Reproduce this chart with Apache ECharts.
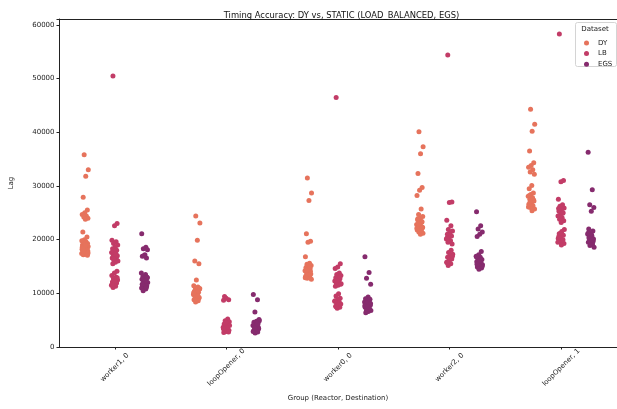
<!DOCTYPE html>
<html>
<head>
<meta charset="utf-8">
<script src="https://cdn.jsdelivr.net/npm/echarts@6/dist/echarts.min.js"></script>
<style>
html,body{margin:0;padding:0;background:#fff;}
#chart{width:617px;height:409px;}
</style>
</head>
<body>
<div id="chart"></div>
<script>
// ---- data ----
const categories = ['worker1, 0', 'loopOpener, 0', 'worker0, 0', 'worker2, 0', 'loopOpener, 1'];
const datasetNames = ['DY', 'LB', 'EGS'];
const yTicks = [0, 10000, 20000, 30000, 40000, 50000, 60000];

const dyValues = [
  [35800, 33000, 31800, 27900, 25500, 25000, 24700, 24400, 24200, 24000, 23800, 21400,
   20500, 20000, 19800, 19600, 19500, 19300, 19200, 19000, 18900, 18800, 18700, 18600, 18500,
   18400, 18300, 18200, 18100, 18000, 17900, 17800, 17700, 17600, 17500, 17400, 17300, 17200,
   17100, 19100, 18600, 18200, 17800, 17500, 18900, 18300],
  [24400, 23100, 19900, 16000, 15500, 12500,
   11400, 11200, 11000, 10800, 10600, 10400, 10200, 10000, 9800, 9600, 9400, 9200, 9000, 8800,
   8600, 8400, 10900, 10300, 9700, 9100, 8700, 10100, 9500],
  [31500, 28700, 27300, 21100, 19700, 19500, 16800,
   15600, 15400, 15200, 15000, 14800, 14600, 14400, 14200, 14000, 13800, 13600, 13400, 13200,
   13000, 12800, 12600, 15300, 14700, 14100, 13500, 12900, 14900, 14300],
  [40100, 37300, 36000, 32300, 29700, 29200, 28200, 25700,
   24700, 24300, 24000, 23700, 23400, 23100, 22800, 22600, 22400, 22200, 22000, 21800, 21600,
   21400, 21200, 21000, 23900, 23300, 22700, 22100, 21500, 22900, 22300, 21700],
  [44300, 41500, 40200, 36500, 34300, 33800, 33500, 33000, 32600, 32200, 30100, 29500,
   28700, 28400, 28100, 27800, 27500, 27200, 26900, 26600, 26300, 26000, 25700, 25400,
   28200, 27400, 26700, 26100, 27700, 27000]
];

const lbValues = [
  [50500, 23000, 22600, 19900, 19600, 19300, 19000, 18600, 18300, 18000, 17800, 17600, 17400,
   17200, 17000, 16800, 16600, 16400, 16200, 16000, 15800, 15500, 14100, 13800, 13300, 13000,
   12700, 12500, 12300, 12100, 11900, 11700, 11500, 11300, 11100, 12900, 12200, 11600, 17100, 16500],
  [9400, 8800, 9100, 8700,
   5200, 4900, 4700, 4500, 4300, 4100, 3900, 3700, 3500, 3300, 3100, 2900, 2700, 4800, 4400,
   4000, 3600, 3200, 2800, 4600, 3400],
  [46500, 15500, 14900, 14600,
   13800, 13500, 13300, 13100, 12900, 12700, 12500, 12300, 12100, 11900, 11700, 11500, 11300,
   13000, 12400, 11800,
   9900, 9500, 9100, 8800, 8600, 8400, 8200, 8000, 7800, 7600, 7400, 7200, 8500, 7900, 7500],
  [54400, 27000, 26900, 23600, 22600,
   21900, 21600, 21300, 21000, 20700, 20400, 20100, 19800, 19500, 19200, 20900, 20300,
   18000, 17600, 17300, 17000, 16700, 16400, 16100, 15800, 15500, 15200, 16900, 16300, 15700],
  [58300, 31000, 30800, 27500,
   26500, 26200, 25900, 25600, 25300, 25000, 24700, 24400, 24100, 23800, 23500, 23200,
   25800, 24900, 24200,
   21900, 21500, 21100, 20800, 20500, 20200, 19900, 19600, 19300, 19000, 20600, 20000, 21200, 19500]
];

const egsValues = [
  [21100, 18600, 18300, 18100, 17200, 16900, 16600, 17000,
   13800, 13500, 13200, 13000, 12800, 12600, 12400, 12200, 12000, 11800, 11600, 11400, 11200,
   11000, 10800, 10500, 12900, 12300, 11700, 11100],
  [9800, 8800, 6500,
   5100, 4800, 4600, 4400, 4200, 4000, 3800, 3600, 3400, 3200, 3000, 2800, 2600, 4900, 4500,
   4100, 3700, 3300, 2900, 4300, 3500],
  [16800, 13900, 12800, 11700,
   9300, 9000, 8800, 8600, 8400, 8200, 8000, 7800, 7600, 7400, 7200, 7000, 6800, 6600, 6400,
   8900, 8300, 7700, 7100, 6700, 8100, 7500],
  [25200, 22600, 22000, 21400, 21000, 20600, 17800,
   17200, 16900, 16700, 16500, 16300, 16100, 15900, 15700, 15500, 15300, 15100, 14900, 14700,
   14500, 16800, 16200, 15600, 15000, 16000, 15400],
  [36300, 29300, 26500, 26000, 25300,
   22000, 21600, 21300, 21000, 20700, 20400, 20100, 19800, 19500, 19200, 18900, 18600,
   20900, 20300, 19700, 19100, 21200, 20000]
];

// ---- styling / layout ----
const colors = ['#e6735c', '#c23c67', '#862b6e'];
const FONT = 'DejaVu Sans';
const dodge = [-0.2667, 0, 0.2667];
const JW = 0.06; // total jitter width in category units
function jitter(i) { return (((i * 0.6180339887) + 0.37) % 1 - 0.5) * JW; }

function buildSeries(values, k) {
  const pts = [];
  values.forEach((arr, ci) => {
    arr.forEach((v, i) => pts.push([ci + dodge[k] + jitter(i + k * 3), v]));
  });
  return {
    name: datasetNames[k],
    type: 'scatter',
    xAxisIndex: 1,
    yAxisIndex: 0,
    symbol: 'circle',
    symbolSize: 5,
    itemStyle: { color: colors[k], opacity: 1 },
    emphasis: { disabled: true },
    data: pts
  };
}

const chart = echarts.init(document.getElementById('chart'), null, { renderer: 'canvas' });
const option = {
  animation: false,
  color: colors,
  title: {
    text: 'Timing Accuracy: DY vs, STATIC (LOAD_BALANCED, EGS)',
    left: 336.5,
    top: 7,
    textAlign: 'center',
    textStyle: { fontFamily: FONT, fontSize: 8.4, fontWeight: 'normal', color: '#111' }
  },
  grid: { left: 55, right: -1, top: 19, bottom: 62, containLabel: false },
  legend: {
    orient: 'vertical',
    left: 579,
    top: 34,
    itemWidth: 5,
    itemHeight: 5,
    itemGap: 2.6,
    icon: 'circle',
    data: datasetNames,
    textStyle: { fontFamily: FONT, fontSize: 7, color: '#222', lineHeight: 8, padding: [0, 0, 0, 4] },
    selectedMode: false
  },
  graphic: [
    {
      type: 'rect', z: 3, silent: true,
      shape: { x: 575.5, y: 22.5, width: 41, height: 44, r: 2 },
      style: { fill: 'rgba(255,255,255,0.8)', stroke: '#d4d4d4', lineWidth: 1 }
    },
    {
      type: 'text', z: 4, silent: true,
      x: 595, y: 29.5,
      style: { text: 'Dataset', fontFamily: FONT, fontSize: 7, fill: '#222', align: 'center', verticalAlign: 'middle' }
    }
  ],
  xAxis: [
    {
      type: 'category',
      data: categories,
      boundaryGap: true,
      position: 'bottom',
      name: 'Group (Reactor, Destination)',
      nameLocation: 'middle',
      nameGap: 46,
      nameTextStyle: { fontFamily: FONT, fontSize: 7, color: '#222' },
      axisLine: { show: true, onZero: false, lineStyle: { color: '#222', width: 1 } },
      axisTick: { show: true, alignWithLabel: true, length: 2.5, lineStyle: { color: '#222' } },
      axisLabel: {
        interval: 0, rotate: 45, margin: 20.5,
        align: 'center', verticalAlign: 'middle',
        fontFamily: FONT, fontSize: 7, color: '#222'
      },
      splitLine: { show: false }
    },
    {
      type: 'value',
      min: -0.5, max: 4.5,
      position: 'top',
      axisLine: { show: true, onZero: false, lineStyle: { color: '#222', width: 1 } },
      axisTick: { show: false },
      axisLabel: { show: false },
      splitLine: { show: false }
    }
  ],
  yAxis: [
    {
      type: 'value',
      min: yTicks[0],
      max: 61100,
      interval: 10000,
      position: 'left',
      name: 'Lag',
      nameLocation: 'middle',
      nameGap: 44,
      nameTextStyle: { fontFamily: FONT, fontSize: 7, color: '#222' },
      axisLine: { show: true, onZero: false, lineStyle: { color: '#222', width: 1 } },
      axisTick: { show: true, length: 2.5, lineStyle: { color: '#222' } },
      axisLabel: {
        margin: 4.5, fontFamily: FONT, fontSize: 7, color: '#222',
        formatter: v => (yTicks.indexOf(v) >= 0 ? String(v) : '')
      },
      splitLine: { show: false }
    }
  ],
  series: [
    buildSeries(dyValues, 0),
    buildSeries(lbValues, 1),
    buildSeries(egsValues, 2)
  ]
};
chart.setOption(option);
</script>
</body>
</html>
